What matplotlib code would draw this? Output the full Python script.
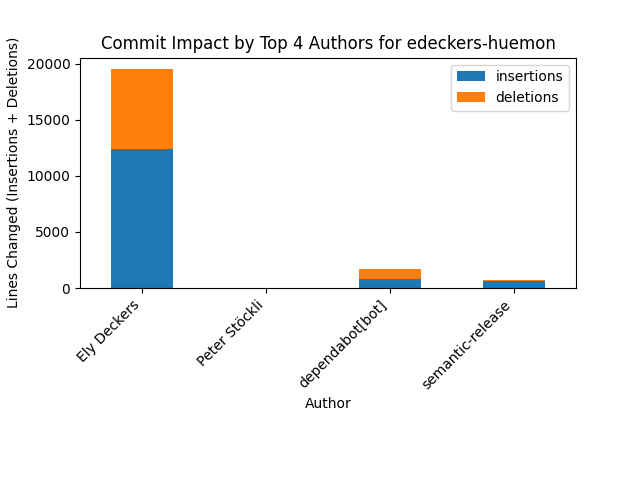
import pandas as pd
import matplotlib
matplotlib.use("Agg")
import matplotlib.pyplot as plt

authors = ["Ely Deckers", "Peter Stöckli", "dependabot[bot]", "semantic-release"]
insertions = [12400, 12, 820, 650]
deletions = [7150, 6, 900, 90]

df = pd.DataFrame({"insertions": insertions, "deletions": deletions}, index=authors)

fig, ax = plt.subplots(figsize=(6.4, 4.8))
df.plot(kind="bar", stacked=True, ax=ax)
ax.set_title("Commit Impact by Top 4 Authors for edeckers-huemon")
ax.set_xlabel("Author")
ax.set_ylabel("Lines Changed (Insertions + Deletions)")
plt.xticks(rotation=45, ha="right")
plt.subplots_adjust(bottom=0.4)
plt.savefig("out.png")
